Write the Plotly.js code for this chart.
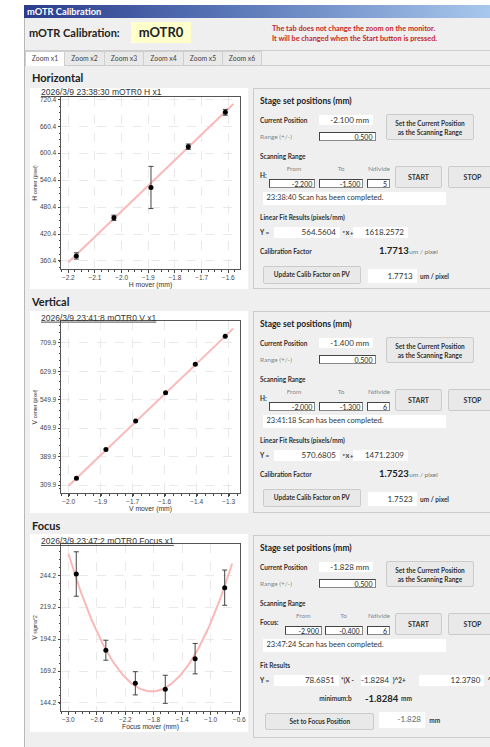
<!DOCTYPE html>
<html><head><meta charset="utf-8">
<script src="https://cdn.plot.ly/plotly-3.0.1.min.js"></script>
<style>
html,body{margin:0;padding:0;background:#fff;width:490px;height:747px;overflow:hidden;font-family:Lato,"Noto Sans",sans-serif;color:#333;}
.abs{position:absolute;}
#win{position:absolute;left:24px;top:5px;width:480px;height:760px;background:#efefef;border-left:1px solid #b8b8b8;}
#titlebar{position:absolute;left:24px;top:5px;width:470px;height:13px;background:linear-gradient(to right,#2a3c8c 0%,#5b78b8 45%,#a9c9ee 100%);color:#fff;font-weight:bold;font-size:9.3px;line-height:13px;padding-left:3px;box-sizing:border-box;}
.hline{position:absolute;left:25px;width:470px;height:1px;background:#cdcdcd;}
.tab{position:absolute;top:51px;height:14px;background:#e9e9e9;border:1px solid #cfcfcf;border-bottom:none;box-sizing:border-box;font-size:6.8px;line-height:13px;text-align:center;color:#444;}
.sect{position:absolute;left:32px;font-weight:bold;font-size:11px;line-height:14px;color:#222;}
.panel{position:absolute;left:30px;width:218px;background:#fff;}
.grp{position:absolute;left:253px;width:250px;border:1px solid #cccccc;box-sizing:border-box;background:#efefef;}
.grp > div{position:absolute;white-space:nowrap;}
.lb{font-weight:bold;font-size:6.5px;line-height:9px;color:#333;}
.gl{font-size:6.5px;line-height:9px;color:#888;}
.hd{font-weight:bold;font-size:8.5px;line-height:12px;color:#222;}
.box{background:#fff;font-size:8px;text-align:right;box-sizing:border-box;padding-right:4px;color:#333;}
.inp{background:#fff;font-size:7px;text-align:right;box-sizing:border-box;padding-right:2px;border:1px solid #888;border-top-color:#444;border-left-color:#444;color:#222;}
.btn{background:#e9e9e9;border:1px solid #cbcbcb;border-radius:2px;box-sizing:border-box;font-weight:bold;font-size:6.5px;text-align:center;color:#333;}
.big{font-weight:bold;font-size:9.5px;line-height:12px;color:#222;}
.op{z-index:2;}
</style></head>
<body>
<div id="win"></div>
<div id="titlebar">mOTR Calibration</div>
<div class="abs" style="left:29px;top:26px;font-weight:bold;font-size:11px;line-height:14px;color:#222;">mOTR Calibration:</div>
<div class="abs" style="left:131px;top:22px;width:60px;height:21px;background:#ffffcc;font-weight:bold;font-size:13px;line-height:21px;text-align:center;color:#222;">mOTR0</div>
<div class="abs" style="left:272px;top:24px;font-weight:bold;font-size:7.3px;line-height:10px;color:#c4262b;">The tab does not change the zoom on the monitor.<br>It will be changed when the Start button is pressed.</div>
<div class="hline" style="top:50px;"></div>
<div class="hline" style="top:65px;"></div>
<div id="tabs"></div>
<div class="sect" style="top:71px;">Horizontal</div>
<div class="sect" style="top:295px;">Vertical</div>
<div class="sect" style="top:519px;">Focus</div>
<div id="plotH" class="panel" style="top:88px;height:201px;"></div>
<div id="plotV" class="panel" style="top:311px;height:202px;"></div>
<div id="plotF" class="panel" style="top:534px;height:198px;"></div>
<div id="grpH" class="grp" style="top:88px;height:201px;"></div>
<div id="grpV" class="grp" style="top:311px;height:202px;"></div>
<div id="grpF" class="grp" style="top:535px;height:203px;"></div>
<script>
// ---------- data ----------
const tabLabels = ["Zoom x1","Zoom x2","Zoom x3","Zoom x4","Zoom x5","Zoom x6"];

const hTitle = "2026/3/9 23:38:30 mOTR0 H x1";
const hMover = [-2.170, -2.029, -1.890, -1.750, -1.611];
const hCenter = [371.6, 456.4, 524.1, 614.9, 691.5];
const hErr = [7, 6, 47, 6, 6.5];
const hFitX = [-2.200, -1.581];
const hFitY = [357.4, 710.0];
const hTicksY = [360.4, 60];

const vTitle = "2026/3/9 23:41:8 mOTR0 V x1";
const vMover = [-1.966, -1.837, -1.707, -1.576, -1.446, -1.315];
const vCenter = [328.6, 410.1, 489.8, 569.4, 649.9, 728.6];
const vFitX = [-2.000, -1.280];
const vFitY = [308.0, 750.2];

const fTitle = "2026/3/9 23:47:2 mOTR0 Focus x1";
const fMover = [-2.888, -2.473, -2.059, -1.639, -1.220, -0.805];
const fSigma2 = [245.2, 185.5, 159.6, 154.9, 178.9, 234.5];
const fErr = [17.4, 7.8, 9.1, 11.0, 11.9, 13.8];
const fFitCoef = [78.6851, -1.8284, 12.3780];   // a*(X-b)^2 + c^2
const fFitRange = [-3.0, -0.7];

const hPanel = {pos:"-2.100 mm", range:"0.500", axis:"H:", from:"-2.200", to:"-1.500", nd:"5", status:"23:38:40 Scan has been completed.", k:"564.5604", c:"1618.2572", cal:"1.7713"};
const vPanel = {pos:"-1.400 mm", range:"0.500", axis:"H:", from:"-2.000", to:"-1.300", nd:"6", status:"23:41:18 Scan has been completed.", k:"570.6805", c:"1471.2309", cal:"1.7523"};
const fPanel = {pos:"-1.828 mm", range:"0.500", axis:"Focus:", from:"-2.900", to:"-0.400", nd:"6", status:"23:47:24 Scan has been completed.", a:"78.6851", b:"-1.8284", c:"12.3780", min:"-1.8284", set:"-1.828"};

// ---------- tabs ----------
(function(){
  const lefts=[25,64,104,143,183,222];
  let h="";
  tabLabels.forEach((t,i)=>{
    const bg = i===0 ? "#ffffff" : "#e9e9e9";
    const hh = i===0 ? 15 : 14;
    h+=`<div class="tab" style="left:${lefts[i]}px;width:${(i<5?lefts[i+1]:261)-lefts[i]+1}px;background:${bg};height:${hh}px;">${t}</div>`;
  });
  document.getElementById("tabs").innerHTML=h;
})();

// ---------- right panels ----------
function commonTop(p, fromL, fromW, toL, toW, fromC, toC){
  return `
  <div class="hd" style="left:6px;top:6px;">Stage set positions (mm)</div>
  <div class="lb" style="left:6px;top:26.5px;">Current Position</div>
  <div class="box" style="left:65px;top:26px;width:54px;height:10px;line-height:10px;font-size:8px;">${p.pos}</div>
  <div class="gl" style="left:6px;top:43px;">Range (+/-)</div>
  <div class="inp" style="left:64.5px;top:42.5px;width:57px;height:9px;line-height:8px;">${p.range}</div>
  <div class="btn" style="left:132px;top:25px;width:88px;height:26px;line-height:9px;padding-top:3.5px;">Set the Current Position<br>as the Scanning Range</div>
  <div class="lb" style="left:6px;top:62.5px;">Scanning Range</div>
  <div class="gl" style="left:${fromC-15}px;width:30px;text-align:center;top:74.5px;">From</div>
  <div class="gl" style="left:${toC-15}px;width:30px;text-align:center;top:74.5px;">To</div>
  <div class="gl" style="left:110px;width:30px;text-align:center;top:74.5px;">Ndivide</div>
  <div class="lb" style="left:6px;top:82px;">${p.axis}</div>
  <div class="inp" style="left:${fromL}px;top:89.5px;width:${fromW}px;height:9.5px;line-height:8.5px;">${p.from}</div>
  <div class="inp" style="left:${toL}px;top:89.5px;width:${toW}px;height:9.5px;line-height:8.5px;">${p.to}</div>
  <div class="inp" style="left:112.5px;top:89.5px;width:23.5px;height:9.5px;line-height:8.5px;">${p.nd}</div>
  <div class="btn" style="left:141px;top:77px;width:47px;height:22px;line-height:20px;font-size:7px;">START</div>
  <div class="btn" style="left:193.5px;top:77px;width:50px;height:22px;line-height:20px;font-size:7px;">STOP</div>
  <div class="box" style="left:8.5px;top:103px;width:183px;height:12.5px;line-height:12.5px;text-align:left;padding-left:4px;font-size:7.5px;">${p.status}</div>`;
}
function linearPanel(p){
  return commonTop(p,15.3,46,64.7,44.6,40,87) + `
  <div class="lb" style="left:6px;top:124px;">Linear Fit Results (pixels/mm)</div>
  <div class="lb" style="left:6px;top:138.5px;">Y =</div>
  <div class="box" style="left:20.3px;top:137.7px;width:65.7px;height:11px;line-height:11px;">${p.k}</div>
  <div class="box" style="left:98.5px;top:137.7px;width:55.5px;height:11px;line-height:11px;">${p.c}</div>
  <div class="lb op" style="left:88.5px;top:138.5px;font-size:5.8px;letter-spacing:-0.4px;">* X +</div>
  <div class="lb" style="left:6px;top:157.5px;">Calibration Factor</div>
  <div class="big" style="left:125px;top:156px;">${p.cal}</div>
  <div class="gl" style="left:155.3px;top:157.5px;color:#777;">um / pixel</div>
  <div class="btn" style="left:8.7px;top:177px;width:98.3px;height:18.3px;line-height:16.3px;">Update Calib Factor on PV</div>
  <div class="box" style="left:113.7px;top:179.7px;width:49px;height:14px;line-height:14px;">${p.cal}</div>
  <div class="lb" style="left:166px;top:182.5px;">um / pixel</div>`;
}
function focusPanel(p){
  return commonTop(p,31,37,71.3,37.4,49.3,89.7) + `
  <div class="lb" style="left:6px;top:124.5px;">Fit Results</div>
  <div class="lb" style="left:6px;top:139.5px;">Y =</div>
  <div class="box" style="left:20.3px;top:138.7px;width:64.4px;height:11px;line-height:11px;">${p.a}</div>
  <div class="lb" style="left:87px;top:139.5px;">*(X -</div>
  <div class="box" style="left:107px;top:138.7px;width:29.3px;height:11px;line-height:11px;padding-right:2px;">${p.b}</div>
  <div class="lb" style="left:138.7px;top:139.5px;">)^2+</div>
  <div class="box" style="left:165.3px;top:138.7px;width:65px;height:11px;line-height:11px;">${p.c}</div>
  <div class="lb" style="left:233.7px;top:139.5px;">^</div>
  <div class="lb" style="left:65.3px;top:158px;">minimum:b</div>
  <div class="big" style="left:111px;top:156.5px;">${p.min}</div>
  <div class="lb" style="left:147px;top:158px;">mm</div>
  <div class="btn" style="left:11.3px;top:176.7px;width:109px;height:17.6px;line-height:15.6px;">Set to Focus Position</div>
  <div class="box" style="left:125.3px;top:176px;width:45.7px;height:15.7px;line-height:15.7px;color:#666;">${p.set}</div>
  <div class="lb" style="left:175.3px;top:180px;">mm</div>`;
}
document.getElementById("grpH").innerHTML = linearPanel(hPanel);
document.getElementById("grpV").innerHTML = linearPanel(vPanel);
document.getElementById("grpF").innerHTML = focusPanel(fPanel);

// ---------- plots ----------
const FONT = "Liberation Sans, Arial, sans-serif";
function axisBase(){
  return {
    showline:true, linecolor:"#555", linewidth:1, mirror:true,
    ticks:"outside", ticklen:2.5, tickwidth:1, tickcolor:"#444",
    showgrid:true, gridcolor:"#e3e3e3", gridwidth:0.8, griddash:"dash",
    zeroline:false, tickfont:{family:FONT, size:6.5, color:"#444"},
    tickformat:".1f", tickmode:"linear", automargin:false, fixedrange:true
  };
}
function makeLayout(title, h, t, b, xr, x0, dx, mx, yr, y0, dy, my, xt, yt, titleY){
  const xa = Object.assign(axisBase(), {range:xr, tick0:x0, dtick:dx,
      minor:{ticks:"outside", ticklen:1.5, tickcolor:"#444", dtick:mx, showgrid:false},
      title:{text:xt, font:{family:FONT, size:6.8, color:"#333"}, standoff:1}});
  const ya = Object.assign(axisBase(), {range:yr, tick0:y0, dtick:dy,
      minor:{ticks:"outside", ticklen:1.5, tickcolor:"#444", dtick:my, showgrid:false},
      title:{text:yt, font:{family:FONT, size:6.5, color:"#333"}, standoff:1}});
  return {
    width:218, height:h, margin:{l:31, r:8, t:t, b:b, pad:0},
    paper_bgcolor:"#fff", plot_bgcolor:"#fff", showlegend:false,
    title:{text:'<span style="text-decoration:underline">'+title+'</span>', x:11/218, xanchor:"left", xref:"container",
           y:1-titleY/h, yanchor:"middle", yref:"container", font:{family:FONT, size:8.5, color:"#333"}},
    xaxis:xa, yaxis:ya
  };
}
function lineTrace(x,y){ return {x:x, y:y, mode:"lines", type:"scatter", line:{color:"#f9b9b9", width:2}, hoverinfo:"skip"}; }
function ptTrace(x,y,e){
  const t = {x:x, y:y, mode:"markers", type:"scatter", marker:{color:"#000", size:5}};
  if(e) t.error_y = {type:"data", array:e, visible:true, color:"#444", thickness:1, width:2.5};
  return t;
}
const cfg = {displayModeBar:false, staticPlot:true};

Plotly.newPlot("plotH", [lineTrace(hFitX,hFitY), ptTrace(hMover,hCenter,hErr)],
  makeLayout(hTitle, 201, 9, 20, [-2.2275,-1.556], -2.2, 0.1, 0.025, [342.5,725.6], hTicksY[0], hTicksY[1], 15,
    "H mover (mm)", 'H <span style="font-size:5px">center (pixel)</span>', 4), cfg);

Plotly.newPlot("plotV", [lineTrace(vFitX,vFitY), ptTrace(vMover,vCenter,null)],
  makeLayout(vTitle, 202, 10, 20, [-2.0335,-1.2504], -2.0, 0.14, 0.035, [287.4,771.7], 309.9, 80, 20,
    "V mover (mm)", 'V <span style="font-size:5px">center (pixel)</span>', 6.7), cfg);

const fCurveX = [], fCurveY = [];
for(let x=fFitRange[0]; x<=fFitRange[1]+1e-9; x+=0.02){
  fCurveX.push(x);
  fCurveY.push(fFitCoef[0]*(x-fFitCoef[1])*(x-fFitCoef[1]) + fFitCoef[2]*fFitCoef[2]);
}
Plotly.newPlot("plotF", [lineTrace(fCurveX,fCurveY), ptTrace(fMover,fSigma2,fErr)],
  makeLayout(fTitle, 198, 10, 21, [-3.1025,-0.59], -3.0, 0.4, 0.1, [137.9,268.7], 144.2, 25, 6.25,
    "Focus mover (mm)", 'V <span style="font-size:5px">sigma^2</span>', 7), cfg);
</script>
</body></html>
